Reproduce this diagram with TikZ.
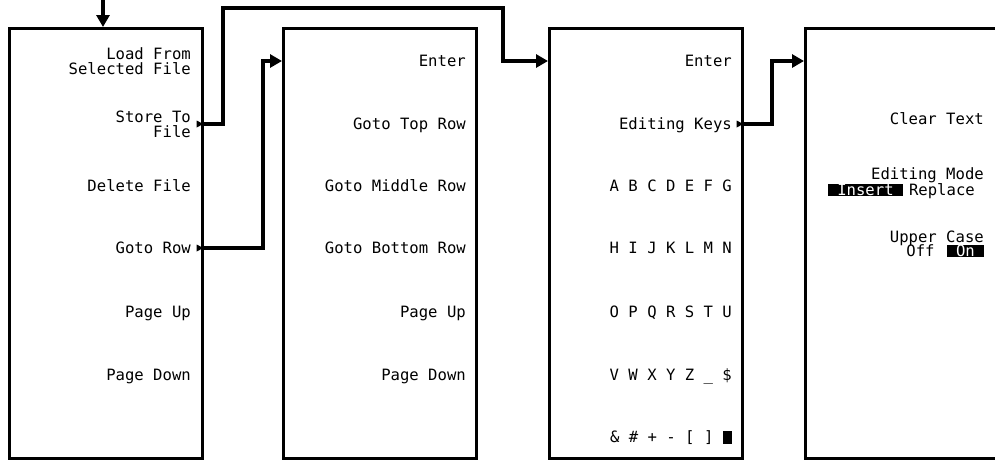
\documentclass[tikz,border=0pt]{standalone}
\usepackage{fontspec}
\newfontfamily\keyfont{DejaVu Sans Mono}
\usetikzlibrary{arrows.meta,positioning}
\tikzset{
  menu/.style={draw,line width=3.2pt,anchor=north west,minimum width=193pt,minimum height=430pt,inner sep=0pt},
  key/.style={anchor=east,inner sep=0pt,font=\keyfont\fontsize{15.6}{15}\selectfont},
  one/.style={key,text height=11.4pt,text depth=0pt},
  two/.style={key,align=right},
  sel/.style={one,fill=black,text=white,inner xsep=9pt,inner ysep=0pt},
  link/.style={line width=3.2pt,-{Triangle[length=12pt,width=13pt]}},
}
% small softkey arrow at the right edge of a menu
\newcommand{\more}[1]{\fill (#1) ++(-7.5,-3.5) -- ++(6.5,3.5) -- ++(-6.5,3.5) -- cycle;}
\begin{document}
\begin{tikzpicture}[x=1pt,y=-1pt]
\useasboundingbox (0,0) rectangle (995,459);
%Menu 1
\node[menu] (m1) at (8,27) {};
\node[two] (load) at (191,61) {Load From\\Selected File};
\node[two] (store) at (191,124) {Store To\\File};
\node[one] (delete) at (191,186) {Delete File};
\node[one] (goto) at (191,248) {Goto Row};
\node[one] (pgup1) at (191,312) {Page Up};
\node[one] (pgdn1) at (191,375) {Page Down};
\more{m1.east |- store.east}
\more{m1.east |- goto.east}
%Menu 2
\node[menu] (m2) at (282,27) {};
\node[one] (enter2) at (466,61) {Enter};
\node[one] (top2) at (466,124) {Goto Top Row};
\node[one] (mid2) at (466,186) {Goto Middle Row};
\node[one] (bot2) at (466,248) {Goto Bottom Row};
\node[one] (pgup2) at (466,312) {Page Up};
\node[one] (pgdn2) at (466,375) {Page Down};
%Menu 3
\node[menu] (m3) at (548,27) {};
\node[one] (enter3) at (732,61) {Enter};
\node[one] (edkeys) at (732,124) {Editing Keys};
\node[one] (row1) at (732,186) {A B C D E F G};
\node[one] (row2) at (732,248) {H I J K L M N};
\node[one] (row3) at (732,312) {O P Q R S T U};
\node[one] (row4) at (732,375) {V W X Y Z \_ \$};
\node[one] (row5) at (732,437) {\& \# + - [ ] \rule[-1pt]{9pt}{13pt}};
\more{m3.east |- edkeys.east}
%Menu 4
\node[menu] (m4) at (804,27) {};
\node[one] (clear) at (984,119) {Clear Text};
\node[one] (edmode) at (984,174) {Editing Mode};
\node[one] (replace) at (975,190) {Replace};
\node[sel,left=6pt of replace] (insert) {Insert};
\node[one] (upper) at (984,237) {Upper Case};
\node[sel] (on) at (984,251) {On};
\node[one,left=12pt of on] (off) {Off};
%Arrows
\coordinate (src) at (103,0);
\coordinate (in4) at (804,61);
\draw[link] (src) -- (src |- m1.north);
\draw[link] (m1.east |- store.east) -| (223,8) -| (503,61) -- (m3.west |- enter3.east);
\draw[link] (m1.east |- goto.east) -| (263,61) -- (m2.west |- enter2.east);
\draw[link] (m3.east |- edkeys.east) -| (772,61) -- (in4);
\end{tikzpicture}
\end{document}
